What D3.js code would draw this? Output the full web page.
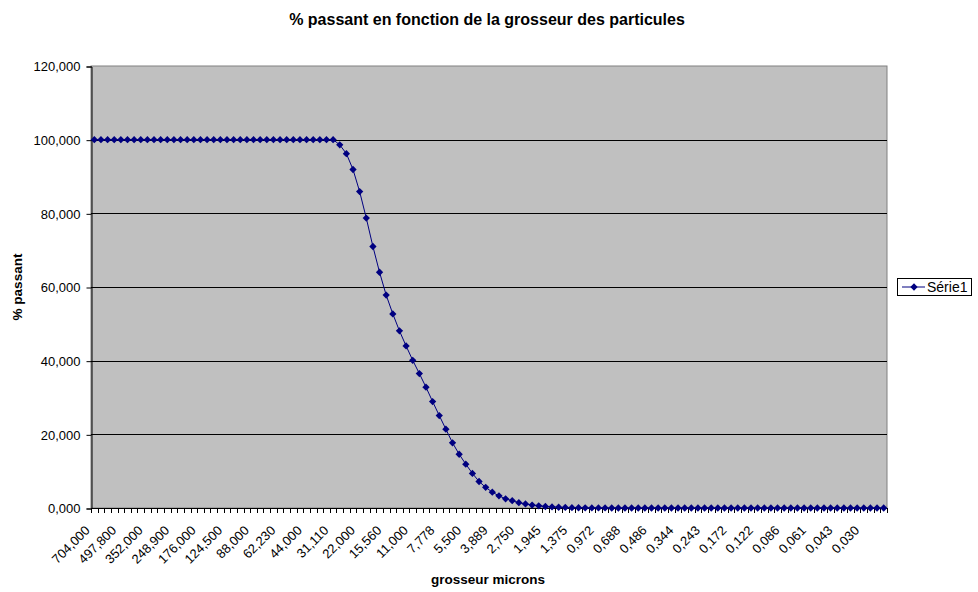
<!DOCTYPE html>
<html>
<head>
<meta charset="utf-8">
<script src="https://cdn.jsdelivr.net/npm/d3@7"></script>
<style>
  body { margin: 0; background: #fff; }
  svg text { font-family: "Liberation Sans", Arial, sans-serif; fill: #000; }
</style>
</head>
<body>
<div id="chart"></div>
<script>
  // grosseur des particules (microns), one label every 4 categories
  var tickLabels = ["704,000","497,800","352,000","248,900","176,000","124,500","88,000","62,230",
                    "44,000","31,110","22,000","15,560","11,000","7,778","5,500","3,889","2,750",
                    "1,945","1,375","0,972","0,688","0,486","0,344","0,243","0,172","0,122",
                    "0,086","0,061","0,043","0,030"];
  var labelEvery = 4;

  // % passant, one value per category
  var passant = [
    100,100,100,100,100,100,100,100,100,100,
    100,100,100,100,100,100,100,100,100,100,
    100,100,100,100,100,100,100,100,100,100,
    100,100,100,100,100,100,100,
    98.6,96.2,91.9,85.9,78.7,71.0,64.0,57.8,52.7,48.1,
    44.0,40.1,36.5,32.8,28.9,25.1,21.4,17.7,14.6,11.9,
    9.4,7.2,5.6,4.3,3.3,2.5,2.0,1.45,1.1,0.8,
    0.6,0.4,0.3,0.2,0.15,0.1,0.07,0.05,0.03,0.02,0.01,
    0,0,0,0,0,0,0,0,0,0,
    0,0,0,0,0,0,0,0,0,0,
    0,0,0,0,0,0,0,0,0,0,
    0,0,0,0,0,0,0,0,0,0,
    0,0
  ];

  var yTicks = [0,20,40,60,80,100,120];
  var seriesName = "Série1";

  var W = 978, H = 592;
  var plot = {left: 91, right: 887, top: 66, bottom: 508};
  var navy = "#000080";

  var svg = d3.select("#chart").append("svg")
    .attr("width", W)
    .attr("height", H);

  var x = d3.scaleBand()
    .domain(d3.range(passant.length))
    .range([plot.left, plot.right]);
  var y = d3.scaleLinear()
    .domain([0, 120])
    .range([plot.bottom, plot.top]);

  function cx(i){ return x(i) + x.bandwidth()/2; }

  // plot area
  svg.append("rect")
    .attr("x", plot.left).attr("y", plot.top)
    .attr("width", plot.right - plot.left)
    .attr("height", plot.bottom - plot.top)
    .attr("fill", "#c0c0c0")
    .attr("stroke", "#808080")
    .attr("stroke-width", 1);

  // gridlines
  svg.append("g").selectAll("line")
    .data(yTicks.slice(1, -1))
    .enter().append("line")
    .attr("x1", plot.left).attr("x2", plot.right)
    .attr("y1", function(d){ return Math.round(y(d)) + 0.5; })
    .attr("y2", function(d){ return Math.round(y(d)) + 0.5; })
    .attr("stroke", "#000")
    .attr("stroke-width", 1);

  // y axis
  var yAxis = d3.axisLeft(y)
    .tickValues(yTicks)
    .tickSize(5)
    .tickPadding(6)
    .tickFormat(function(d){ return d3.format(".3f")(d).replace(".", ","); });
  var gy = svg.append("g")
    .attr("transform", "translate(" + (plot.left + 0.5) + ",0.5)")
    .call(yAxis);
  gy.selectAll("text").style("font-size", "13px").style("font-family", "Liberation Sans, Arial, sans-serif");
  gy.selectAll("line").attr("stroke", "#000");
  gy.select(".domain").attr("stroke", "#000");

  // x axis : ticks on every category boundary
  var boundaries = d3.range(passant.length + 1).map(function(i){
    return i < passant.length ? x(i) : plot.right;
  });
  var gx = svg.append("g");
  gx.append("line")
    .attr("x1", plot.left).attr("x2", plot.right)
    .attr("y1", plot.bottom + 0.5).attr("y2", plot.bottom + 0.5)
    .attr("stroke", "#000");
  gx.selectAll("line.tick")
    .data(boundaries)
    .enter().append("line")
    .attr("class", "tick")
    .attr("x1", function(d){ return Math.round(d) + 0.5; })
    .attr("x2", function(d){ return Math.round(d) + 0.5; })
    .attr("y1", plot.bottom)
    .attr("y2", plot.bottom + 5)
    .attr("stroke", "#000");

  gx.selectAll("text")
    .data(tickLabels)
    .enter().append("text")
    .attr("transform", function(d, i){
      return "translate(" + (cx(i * labelEvery) - 7) + "," + (plot.bottom + 20) + ") rotate(-45)";
    })
    .attr("text-anchor", "end")
    .attr("dy", "0.35em")
    .style("font-size", "13px")
    .text(function(d){ return d; });

  // series line + diamonds
  var line = d3.line()
    .x(function(d, i){ return cx(i); })
    .y(function(d){ return y(d); });

  svg.append("path")
    .datum(passant)
    .attr("d", line)
    .attr("fill", "none")
    .attr("stroke", navy)
    .attr("stroke-width", 1);

  var diamond = d3.symbol().type(d3.symbolDiamond2).size(34);
  svg.append("g").selectAll("path")
    .data(passant)
    .enter().append("path")
    .attr("d", diamond)
    .attr("transform", function(d, i){ return "translate(" + cx(i) + "," + y(d) + ")"; })
    .attr("fill", navy);

  // titles
  svg.append("text")
    .attr("x", 487).attr("y", 25)
    .attr("text-anchor", "middle")
    .style("font-size", "16px")
    .style("font-weight", "bold")
    .text("% passant en fonction de la grosseur des particules");

  svg.append("text")
    .attr("x", 488).attr("y", 584)
    .attr("text-anchor", "middle")
    .style("font-size", "13.5px")
    .style("font-weight", "bold")
    .text("grosseur microns");

  svg.append("text")
    .attr("transform", "translate(22,287) rotate(-90)")
    .attr("text-anchor", "middle")
    .style("font-size", "13.5px")
    .style("font-weight", "bold")
    .text("% passant");

  // legend
  var lg = svg.append("g");
  lg.append("rect")
    .attr("x", 897.5).attr("y", 278.5)
    .attr("width", 74).attr("height", 17)
    .attr("fill", "#fff")
    .attr("stroke", "#000");
  lg.append("line")
    .attr("x1", 902).attr("x2", 925)
    .attr("y1", 287).attr("y2", 287)
    .attr("stroke", navy);
  lg.append("path")
    .attr("d", diamond)
    .attr("transform", "translate(914,287)")
    .attr("fill", navy);
  lg.append("text")
    .attr("x", 927).attr("y", 287)
    .attr("dy", "0.35em")
    .style("font-size", "14px")
    .text(seriesName);
</script>
</body>
</html>
